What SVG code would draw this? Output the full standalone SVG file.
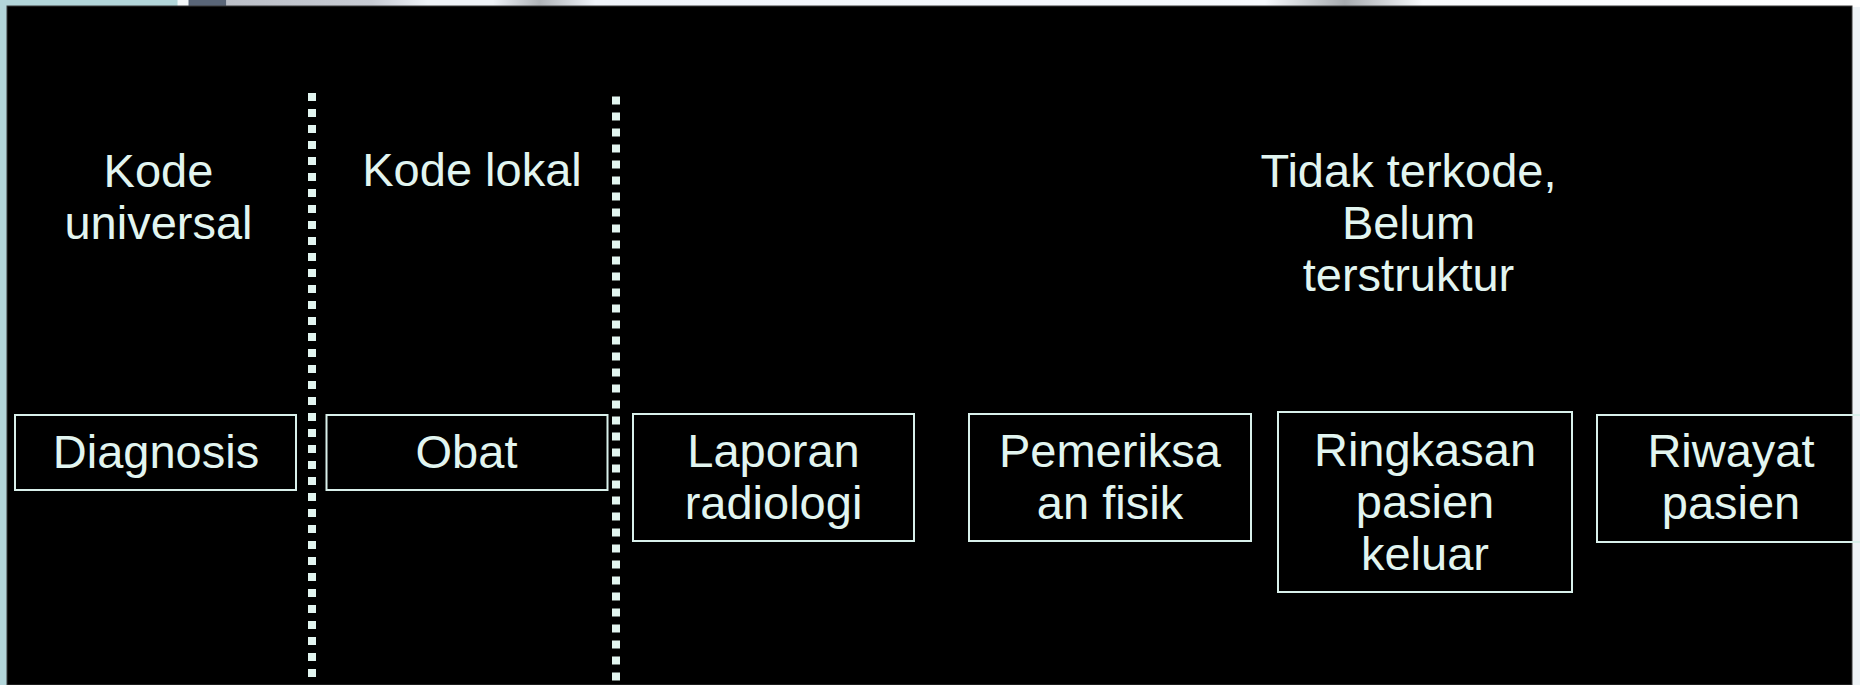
<svg xmlns="http://www.w3.org/2000/svg" width="1860" height="685" viewBox="0 0 1860 685">
<style>
.t{font-family:"Liberation Sans",Arial,sans-serif;font-size:47px;fill:#e2f5f0;text-anchor:middle}
.box{fill:none;stroke:#d9f0eb;stroke-width:2}
.dot{fill:none;stroke:#e2f5f0;stroke-width:8;stroke-dasharray:8 8}
</style>
<defs>
<linearGradient id="top" x1="0" y1="0" x2="1860" y2="0" gradientUnits="userSpaceOnUse">
<stop offset="0" stop-color="#b3d6da"/>
<stop offset="0.0952" stop-color="#b3d6da"/>
<stop offset="0.0957" stop-color="#f4f8fa"/>
<stop offset="0.1011" stop-color="#f4f8fa"/>
<stop offset="0.1016" stop-color="#5a6678"/>
<stop offset="0.1215" stop-color="#5a6678"/>
<stop offset="0.1218" stop-color="#bcc0c8"/>
<stop offset="0.2" stop-color="#c8ccd4"/>
<stop offset="0.23" stop-color="#eef2f7"/>
<stop offset="0.265" stop-color="#eef2f7"/>
<stop offset="0.29" stop-color="#b0b4b8"/>
<stop offset="0.32" stop-color="#f0f4fa"/>
<stop offset="0.68" stop-color="#f6f9fd"/>
<stop offset="0.723" stop-color="#a8acb0"/>
<stop offset="0.765" stop-color="#f8fafd"/>
<stop offset="1" stop-color="#ffffff"/>
</linearGradient>
</defs>
<g id="background">
<rect x="0" y="0" width="1860" height="685" fill="#eef3f6"/>
<rect x="0" y="0" width="1860" height="7" fill="url(#top)"/>
<rect x="0" y="0" width="7" height="685" fill="#b3d6da"/>
<rect x="7" y="6" width="1845" height="679" fill="#000" stroke="#3a3a3a" stroke-width="1"/>
</g>
<g id="connectors">
<line class="dot" x1="312" y1="93" x2="312" y2="685"/>
<line class="dot" x1="616" y1="96.5" x2="616" y2="685"/>
</g>
<g id="header-universal">
<text class="t" x="158.5" y="187">Kode</text>
<text class="t" x="158.5" y="239">universal</text>
</g>
<g id="header-lokal">
<text class="t" x="472" y="186">Kode lokal</text>
</g>
<g id="header-tidak">
<text class="t" x="1408.5" y="187">Tidak terkode,</text>
<text class="t" x="1408.5" y="239">Belum</text>
<text class="t" x="1408.5" y="291">terstruktur</text>
</g>
<g id="diagnosis">
<rect class="box" x="15" y="415" width="281" height="75"/>
<text class="t" x="156" y="468">Diagnosis</text>
</g>
<g id="obat">
<rect class="box" x="326.5" y="415" width="281" height="75"/>
<text class="t" x="466.5" y="468">Obat</text>
</g>
<g id="laporan">
<rect class="box" x="633" y="414" width="281" height="127"/>
<text class="t" x="773.5" y="467">Laporan</text>
<text class="t" x="773.5" y="519">radiologi</text>
</g>
<g id="pemeriksaan">
<rect class="box" x="969" y="414" width="282" height="127"/>
<text class="t" x="1110" y="467">Pemeriksa</text>
<text class="t" x="1110" y="519">an fisik</text>
</g>
<g id="ringkasan">
<rect class="box" x="1278" y="412" width="294" height="180"/>
<text class="t" x="1425" y="466">Ringkasan</text>
<text class="t" x="1425" y="518">pasien</text>
<text class="t" x="1425" y="569.5">keluar</text>
</g>
<g id="riwayat">
<rect class="box" x="1597" y="415" width="268" height="127"/>
<text class="t" x="1731" y="467">Riwayat</text>
<text class="t" x="1731" y="519">pasien</text>
</g>
</svg>
